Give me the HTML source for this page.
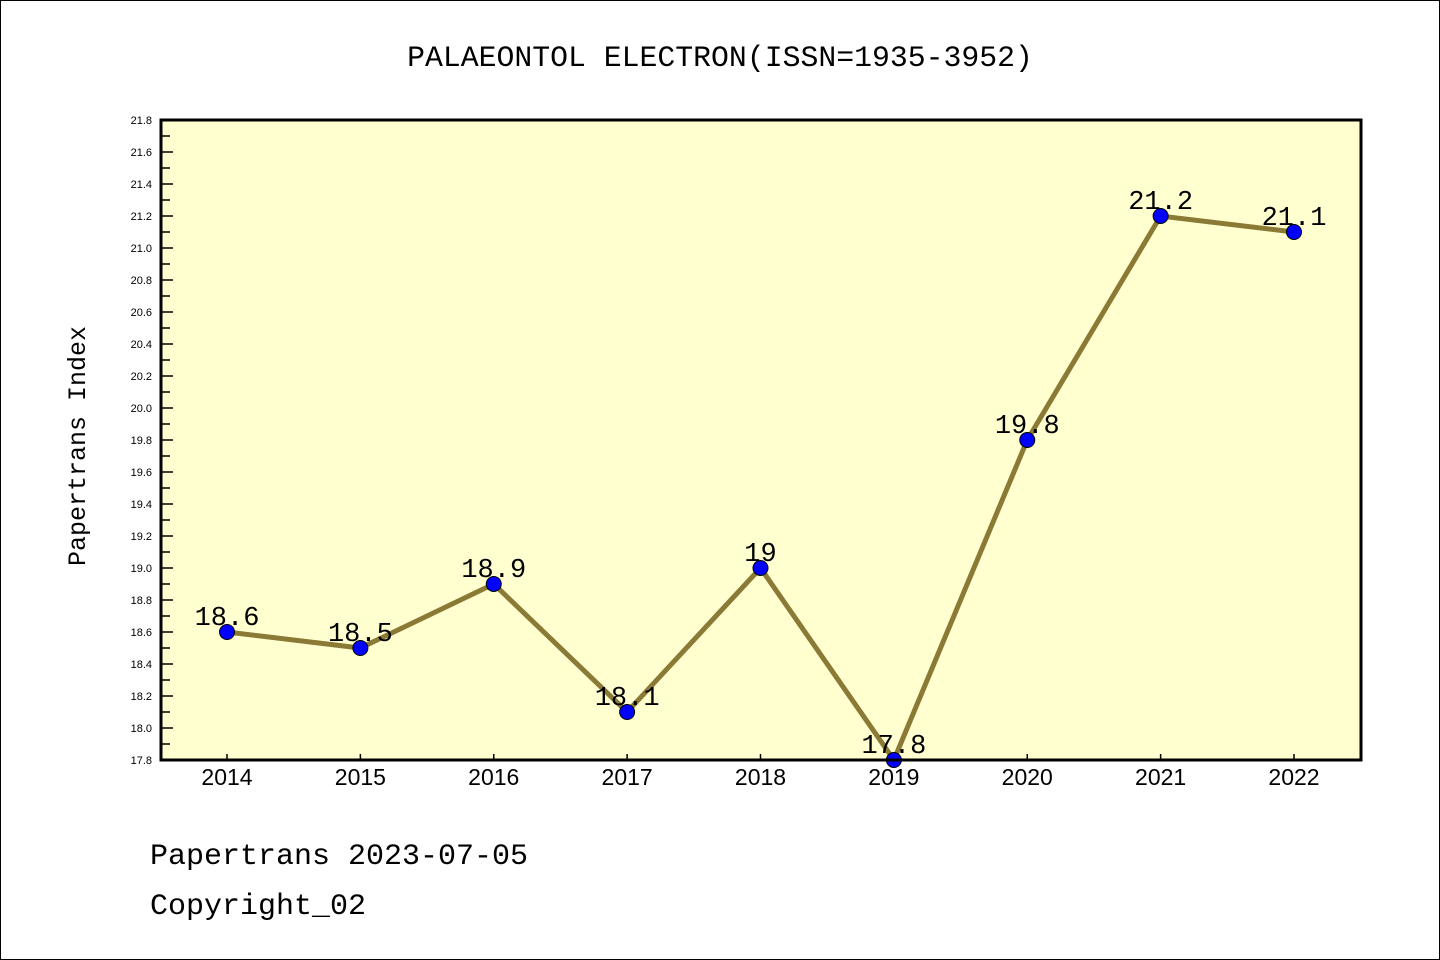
<!DOCTYPE html>
<html><head><meta charset="utf-8"><style>
body{margin:0;background:#fff}
svg{display:block;font-family:"Liberation Sans","DejaVu Sans",sans-serif}
</style></head><body>
<svg id="chart" width="1440" height="960">
<rect x="0.5" y="0.5" width="1439" height="959" fill="#fff" stroke="#000"/>
<text x="720" y="66" text-anchor="middle" font-family="Liberation Mono, monospace" font-size="29.8">PALAEONTOL ELECTRON(ISSN=1935-3952)</text>
<rect x="161" y="120" width="1200" height="640" fill="#ffffd0"/>
<g id="yaxis"></g>
<g id="xaxis"></g>
<g id="series"></g>
<rect x="161" y="120" width="1200" height="640" fill="none" stroke="#000" stroke-width="3"/>
<text transform="translate(85,446) rotate(-90)" text-anchor="middle" font-family="Liberation Mono, monospace" font-size="25">Papertrans Index</text>
<text x="150" y="864" font-family="Liberation Mono, monospace" font-size="30">Papertrans 2023-07-05</text>
<text x="150" y="914" font-family="Liberation Mono, monospace" font-size="30">Copyright_02</text>
</svg>
<script>
const years=["2014","2015","2016","2017","2018","2019","2020","2021","2022"];
const values=[18.6,18.5,18.9,18.1,19.0,17.8,19.8,21.2,21.1];
const labels=["18.6","18.5","18.9","18.1","19","17.8","19.8","21.2","21.1"];
const yMin=17.8,yMax=21.8;
const NS="http://www.w3.org/2000/svg";
const X0=161,X1=1361,Y0=760,Y1=120;
function xs(i){return 227+i*(1294-227)/(years.length-1);}
function ys(v){return Y0-(v-yMin)/(yMax-yMin)*(Y0-Y1);}
function mk(t,a,p){const e=document.createElementNS(NS,t);for(const k in a)e.setAttribute(k,a[k]);p.appendChild(e);return e;}
const ya=document.getElementById('yaxis'),xa=document.getElementById('xaxis'),se=document.getElementById('series');
for(let k=0;k<=40;k++){
 const v=yMin+k*0.1,y=ys(v),major=k%2===0;
 const t=mk('line',{x1:X0,x2:X0+(major?12:9),y1:y,y2:y,stroke:'#000','stroke-width':1.5},ya);
 
 
 if(major){const l=mk('text',{x:152,y:y+4,'text-anchor':'end','font-size':11},ya);l.textContent=v.toFixed(1);
  
  }
}
years.forEach((yr,i)=>{
 const x=xs(i);
 const t=mk('line',{x1:x,x2:x,y1:Y0,y2:Y0-6,stroke:'#000','stroke-width':1.5},xa);
 
 
 const l=mk('text',{x:x,y:785,'text-anchor':'middle','font-size':23},xa);l.textContent=yr;
 
 
});
const pl=mk('polyline',{points:values.map((v,i)=>xs(i)+','+ys(v)).join(' '),fill:'none',stroke:'#8b7a35','stroke-width':5},se);


values.forEach((v,i)=>{
 const c=mk('circle',{cx:xs(i),cy:ys(v),r:7.5,fill:'#0000ff',stroke:'#000','stroke-width':1},se);
 
 
 const l=mk('text',{x:xs(i),y:ys(v)-7,'text-anchor':'middle','font-size':27,'font-family':'Liberation Mono, monospace'},se);
 l.textContent=labels[i];
 
 
});
</script>
</body></html>
